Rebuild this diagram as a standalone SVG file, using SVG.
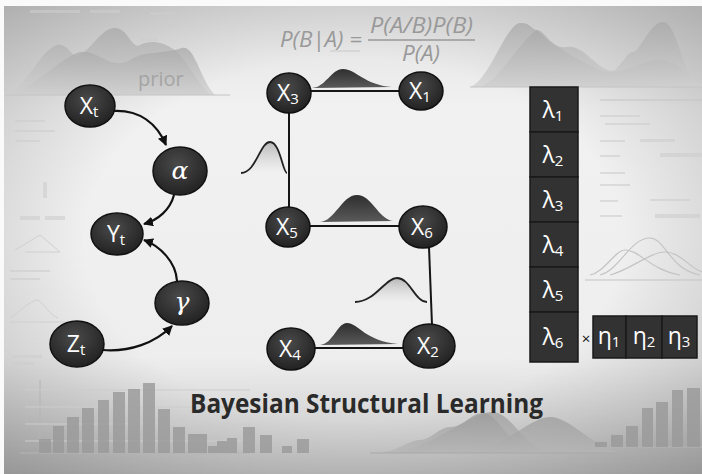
<svg xmlns="http://www.w3.org/2000/svg" width="702" height="474" viewBox="0 0 702 474">
<defs>
<linearGradient id="bg" x1="0" y1="0" x2="0" y2="1">
<stop offset="0" stop-color="#e2e2e2"/>
<stop offset="0.22" stop-color="#f1f1f1"/>
<stop offset="0.75" stop-color="#eeeeee"/>
<stop offset="1" stop-color="#c2c2c2"/>
</linearGradient>
<radialGradient id="vig" cx="0.5" cy="0.5" r="0.7">
<stop offset="0.55" stop-color="#000" stop-opacity="0"/>
<stop offset="1" stop-color="#000" stop-opacity="0.22"/>
</radialGradient>
<radialGradient id="node" cx="0.45" cy="0.35" r="0.7">
<stop offset="0" stop-color="#4a4a4a"/>
<stop offset="1" stop-color="#1f1f1f"/>
</radialGradient>
<linearGradient id="bell" x1="0" y1="0" x2="0" y2="1">
<stop offset="0" stop-color="#2e2e2e"/>
<stop offset="1" stop-color="#5a5a5a"/>
</linearGradient>
<linearGradient id="shade" x1="0" y1="0" x2="0" y2="1">
<stop offset="0" stop-color="#888" stop-opacity="0.55"/>
<stop offset="1" stop-color="#bbb" stop-opacity="0"/>
</linearGradient>
<linearGradient id="mount" x1="0" y1="0" x2="0" y2="1">
<stop offset="0" stop-color="#a8a8a8"/>
<stop offset="1" stop-color="#cfcfcf"/>
</linearGradient>
<linearGradient id="mount2" x1="0" y1="0" x2="0" y2="1">
<stop offset="0" stop-color="#999"/>
<stop offset="1" stop-color="#b5b5b5"/>
</linearGradient>
<marker id="ah" viewBox="0 0 10 10" refX="9" refY="5" markerWidth="10" markerHeight="10" markerUnits="userSpaceOnUse" orient="auto">
<path d="M0,0 L10,5 L0,10 Z" fill="#111"/>
</marker>
<style>
.nd{fill:url(#node);stroke:#111;stroke-width:1.5}
.nt{font-family:"Open Sans","Noto Sans",sans-serif;font-size:23px;fill:#fff;text-anchor:middle}
.sb{font-size:15px}
.gk{font-family:"DejaVu Serif","Liberation Serif",serif;font-style:italic;font-size:25px;fill:#fff;text-anchor:middle}
.ed{fill:none;stroke:#111;stroke-width:2.2}
.ln{fill:none;stroke:#151515;stroke-width:2}
.bx{fill:#323232;stroke:#1a1a1a;stroke-width:1.5}
.lt{font-family:"Open Sans","Noto Sans",sans-serif;font-size:23px;fill:#fff;text-anchor:middle}
.fm{font-family:"Open Sans","Noto Sans",sans-serif;font-style:italic;font-size:21px;fill:#999}
.mt{fill:url(#mount);opacity:0.75}
.mb{fill:url(#mount2);opacity:0.7}
.bar{fill:#989898;opacity:0.8}
.sc{fill:#cdcdcd;opacity:0.6}
</style>
</defs>
<rect width="702" height="474" fill="#fafafa"/>
<rect x="4" y="6" width="698" height="468" fill="url(#bg)"/>
<rect x="4" y="6" width="698" height="468" fill="url(#vig)"/>

<g id="background">
<path class="mt" d="M5,95 C25,90 40,50 57,45 C68,42 72,60 80,55 C95,45 102,28 115,28 C128,28 132,50 140,45 C150,40 160,42 170,47 C185,55 195,80 210,95 Z"/>
<path class="mt" d="M5,95 C30,92 55,62 77,53 C95,46 110,72 130,60 C145,50 160,55 182,48 C195,45 200,80 215,95 Z" opacity="0.45"/>
<line x1="5" y1="95" x2="230" y2="95" stroke="#c4c4c4" stroke-width="1"/>
<path class="mt" d="M470,87 C490,80 505,25 520,23 C530,22 532,30 537,30 C545,30 552,50 567,47 C585,44 600,75 615,70 C625,60 628,52 633,52 C640,52 650,22 663,22 C678,22 682,80 702,86 L702,87 Z"/>
<path class="mt" d="M480,87 C500,80 520,40 537,30 C550,45 580,60 600,70 C620,78 640,60 660,60 C680,60 690,80 702,84 L702,87 Z" opacity="0.45"/>
<line x1="470" y1="87" x2="702" y2="87" stroke="#c4c4c4" stroke-width="1"/>
<g fill="none" stroke="#c4c4c4" stroke-width="1.2">
<path d="M600,275 C620,270 630,238 650,238 C665,238 670,270 700,275"/>
<path d="M590,275 C605,272 615,250 625,250 C640,250 650,270 680,275"/>
<path d="M610,275 C630,270 650,252 665,252 C680,252 690,268 702,272"/>
<line x1="585" y1="280" x2="702" y2="280"/>
<line x1="600" y1="100" x2="702" y2="100"/>
</g>
<rect class="sc" x="30" y="10" width="50" height="3"/>
<rect class="sc" x="90" y="10" width="30" height="3"/>
<rect class="sc" x="150" y="12" width="25" height="3"/>
<rect class="sc" x="160" y="25" width="20" height="3"/>
<rect class="sc" x="140" y="38" width="18" height="3"/>
<rect class="sc" x="110" y="90" width="50" height="2"/>
<rect class="sc" x="15" y="120" width="30" height="2"/>
<rect class="sc" x="15" y="130" width="40" height="2"/>
<rect class="sc" x="15" y="140" width="25" height="2"/>
<rect class="sc" x="43" y="182" width="4" height="16"/>
<rect class="sc" x="20" y="216" width="20" height="4"/>
<rect class="sc" x="45" y="216" width="20" height="4"/>
<rect class="sc" x="10" y="270" width="40" height="2"/>
<rect class="sc" x="10" y="278" width="30" height="2"/>
<rect class="sc" x="12" y="355" width="30" height="3"/>
<rect class="sc" x="12" y="362" width="22" height="3"/>
<path d="M10,318 C20,312 30,300 38,300 C45,305 50,315 58,318 M10,322 L65,322" fill="none" stroke="#d0d0d0" stroke-width="1"/>
<path d="M15,250 L40,235 L60,252 L25,252" fill="none" stroke="#d0d0d0" stroke-width="1"/>
<rect class="sc" x="600" y="115" width="40" height="2"/>
<rect class="sc" x="605" y="123" width="45" height="2"/>
<rect class="sc" x="600" y="140" width="25" height="2"/>
<rect class="sc" x="640" y="139" width="35" height="3"/>
<rect class="sc" x="600" y="155" width="20" height="2"/>
<rect class="sc" x="660" y="153" width="42" height="4"/>
<rect class="sc" x="600" y="172" width="25" height="2"/>
<rect class="sc" x="600" y="184" width="30" height="2"/>
<rect class="sc" x="600" y="200" width="18" height="2"/>
<rect class="sc" x="650" y="199" width="40" height="2"/>
<rect class="sc" x="600" y="215" width="22" height="2"/>
<rect class="sc" x="655" y="214" width="45" height="4"/>
<rect class="sc" x="330" y="50" width="30" height="2"/>
<g>
<line x1="20" y1="453" x2="250" y2="453" stroke="#b4b4b4" stroke-width="1"/>
<line x1="40" y1="380" x2="40" y2="453" stroke="#b4b4b4" stroke-width="1"/>
<g stroke="#cccccc" stroke-width="1">
<line x1="25" y1="390" x2="250" y2="390"/>
<line x1="25" y1="407" x2="250" y2="407"/>
<line x1="25" y1="424" x2="250" y2="424"/>
<line x1="25" y1="441" x2="250" y2="441"/>
</g>
<rect class="bar" x="39" y="439" width="12" height="14"/>
<rect class="bar" x="53" y="426" width="11" height="27"/>
<rect class="bar" x="67" y="417" width="12" height="36"/>
<rect class="bar" x="82" y="408" width="12" height="45"/>
<rect class="bar" x="98" y="400" width="11" height="53"/>
<rect class="bar" x="113" y="392" width="12" height="61"/>
<rect class="bar" x="128" y="389" width="12" height="64"/>
<rect class="bar" x="143" y="383" width="12" height="70"/>
<rect class="bar" x="158" y="409" width="12" height="44"/>
<rect class="bar" x="173" y="427" width="12" height="26"/>
<rect class="bar" x="188" y="434" width="19" height="19"/>
<rect class="bar" x="208" y="446" width="9" height="7"/>
<rect class="bar" x="217" y="441" width="10" height="12"/>
<rect class="bar" x="227" y="438" width="10" height="15"/>
<rect class="bar" x="243" y="427" width="12" height="26" opacity="0.35"/>
<rect class="bar" x="260" y="435" width="12" height="18" opacity="0.25"/>
<rect class="bar" x="282" y="446" width="10" height="7" opacity="0.2"/>
<rect class="bar" x="297" y="439" width="12" height="14" opacity="0.2"/>
</g>
<path class="mb" d="M380,453 C400,450 410,440 420,440 C430,440 440,427 450,427 C465,427 470,413 483,413 C495,413 500,430 515,440 C525,448 560,453 600,453 Z" opacity="0.5"/>
<path class="mb" d="M390,453 C430,450 470,412 492,412 C510,412 520,440 540,448 C550,452 580,453 600,453 Z"/>
<path class="mb" d="M470,453 C500,450 530,417 550,417 C570,417 590,445 620,453 Z"/>
<line x1="370" y1="453" x2="620" y2="453" stroke="#a8a8a8" stroke-width="1"/>
<line x1="590" y1="447" x2="702" y2="447" stroke="#b4b4b4" stroke-width="1"/>
<rect class="bar" x="595" y="442" width="12" height="5" opacity="0.3"/>
<rect class="bar" x="611" y="435" width="12" height="12" opacity="0.45"/>
<rect class="bar" x="626" y="426" width="12" height="21"/>
<rect class="bar" x="642" y="408" width="11" height="39"/>
<rect class="bar" x="656" y="402" width="12" height="45"/>
<rect class="bar" x="672" y="390" width="11" height="57"/>
<rect class="bar" x="687" y="388" width="13" height="59"/>
</g>

<g id="formula">
<text class="fm" x="280" y="47" textLength="82" lengthAdjust="spacingAndGlyphs">P(B|A) =</text>
<text class="fm" x="370" y="33" textLength="103" lengthAdjust="spacingAndGlyphs">P(A/B)P(B)</text>
<line x1="368" y1="40" x2="475" y2="40" stroke="#999" stroke-width="1.3"/>
<text class="fm" x="402" y="61" textLength="38" lengthAdjust="spacingAndGlyphs">P(A)</text>
</g>
<text id="prior" x="138" y="86" font-family="Open Sans, Noto Sans, sans-serif" font-size="20" fill="#a4a4a4">prior</text>

<g id="connectors">
<path class="ed" d="M114,111 C140,110 157,124 166,145" marker-end="url(#ah)"/>
<path class="ed" d="M174,195 C170,210 158,220 144,224" marker-end="url(#ah)"/>
<path class="ed" d="M177,281 C176,262 160,246 144,240" marker-end="url(#ah)"/>
<path class="ed" d="M103,350 C130,352 155,343 172,326" marker-end="url(#ah)"/>
<line class="ln" x1="310" y1="91" x2="400" y2="91"/>
<line class="ln" x1="289" y1="112" x2="289" y2="208"/>
<line class="ln" x1="309" y1="226" x2="400" y2="226"/>
<line class="ln" x1="429" y1="247" x2="432" y2="325"/>
<line class="ln" x1="314" y1="348" x2="404" y2="348"/>
<path d="M312,88 C326,87 331,69 343,69 C356,69 364,85 392,87 Z" fill="url(#bell)"/>
<path d="M320,222 C335,221 342,195 357,195 C372,195 378,219 393,221 Z" fill="url(#bell)"/>
<path d="M320,345 C333,344 337,323 347,323 C358,323 365,341 398,344 Z" fill="url(#bell)"/>
<path d="M241,173 C256,173 260,142 270,142 C280,142 283,173 287,173 Z" fill="url(#shade)"/>
<path d="M241,173 C256,173 260,142 270,142 C280,142 283,173 287,173" fill="none" stroke="#222" stroke-width="1.8"/>
<path d="M355,302 C375,302 385,278 397,278 C410,278 415,302 427,302 Z" fill="url(#shade)"/>
<path d="M355,302 C375,302 385,278 397,278 C410,278 415,302 427,302" fill="none" stroke="#222" stroke-width="1.8"/>
</g>

<g id="node-Xt"><ellipse class="nd" cx="90" cy="106" rx="25" ry="21"/><text class="nt" x="89" y="114">X<tspan class="sb" dy="3">t</tspan></text></g>
<g id="node-alpha"><ellipse class="nd" cx="180" cy="171" rx="27" ry="24"/><text class="gk" x="180" y="179">α</text></g>
<g id="node-Yt"><ellipse class="nd" cx="117" cy="234" rx="26" ry="21"/><text class="nt" x="116" y="242">Y<tspan class="sb" dy="3">t</tspan></text></g>
<g id="node-gamma"><ellipse class="nd" cx="182" cy="303" rx="27" ry="22"/><text class="gk" x="182" y="310">γ</text></g>
<g id="node-Zt"><ellipse class="nd" cx="77" cy="344" rx="27" ry="23"/><text class="nt" x="76" y="352">Z<tspan class="sb" dy="3">t</tspan></text></g>

<g id="node-X3"><ellipse class="nd" cx="289" cy="93" rx="22" ry="20"/><text class="nt" x="288" y="101">X<tspan class="sb" dy="3">3</tspan></text></g>
<g id="node-X1"><ellipse class="nd" cx="421" cy="91" rx="22" ry="19"/><text class="nt" x="420" y="99">X<tspan class="sb" dy="3">1</tspan></text></g>
<g id="node-X5"><ellipse class="nd" cx="288" cy="227" rx="22" ry="20"/><text class="nt" x="287" y="235">X<tspan class="sb" dy="3">5</tspan></text></g>
<g id="node-X6"><ellipse class="nd" cx="423" cy="227" rx="24" ry="21"/><text class="nt" x="422" y="235">X<tspan class="sb" dy="3">6</tspan></text></g>
<g id="node-X4"><ellipse class="nd" cx="291" cy="349" rx="24" ry="21"/><text class="nt" x="290" y="357">X<tspan class="sb" dy="3">4</tspan></text></g>
<g id="node-X2"><ellipse class="nd" cx="429" cy="346" rx="26" ry="22"/><text class="nt" x="428" y="354">X<tspan class="sb" dy="3">2</tspan></text></g>

<g id="lambda">
<rect class="bx" x="530" y="87" width="48" height="45"/>
<rect class="bx" x="530" y="132" width="48" height="45"/>
<rect class="bx" x="530" y="177" width="48" height="45"/>
<rect class="bx" x="530" y="222" width="48" height="45"/>
<rect class="bx" x="530" y="267" width="48" height="45"/>
<rect class="bx" x="530" y="312" width="48" height="50"/>
<text class="lt" x="553" y="118">λ<tspan class="sb" dy="3">1</tspan></text>
<text class="lt" x="553" y="163">λ<tspan class="sb" dy="3">2</tspan></text>
<text class="lt" x="553" y="208">λ<tspan class="sb" dy="3">3</tspan></text>
<text class="lt" x="553" y="253">λ<tspan class="sb" dy="3">4</tspan></text>
<text class="lt" x="553" y="298">λ<tspan class="sb" dy="3">5</tspan></text>
<text class="lt" x="553" y="345">λ<tspan class="sb" dy="3">6</tspan></text>
</g>
<text id="times" x="586" y="344" font-family="Open Sans, sans-serif" font-size="15" fill="#111" text-anchor="middle">×</text>
<g id="eta">
<rect class="bx" x="593" y="316" width="33" height="42"/>
<rect class="bx" x="626" y="316" width="36" height="42"/>
<rect class="bx" x="662" y="316" width="35" height="42"/>
<text class="lt" x="609" y="344" font-size="20">η<tspan class="sb" dy="3" font-size="12">1</tspan></text>
<text class="lt" x="644" y="344" font-size="20">η<tspan class="sb" dy="3" font-size="12">2</tspan></text>
<text class="lt" x="679" y="344" font-size="20">η<tspan class="sb" dy="3" font-size="12">3</tspan></text>
</g>

<text id="title" x="190" y="413" font-family="Open Sans, Noto Sans, sans-serif" font-weight="bold" font-size="27" fill="#2a2a2a" textLength="353" lengthAdjust="spacingAndGlyphs">Bayesian Structural Learning</text>
</svg>
